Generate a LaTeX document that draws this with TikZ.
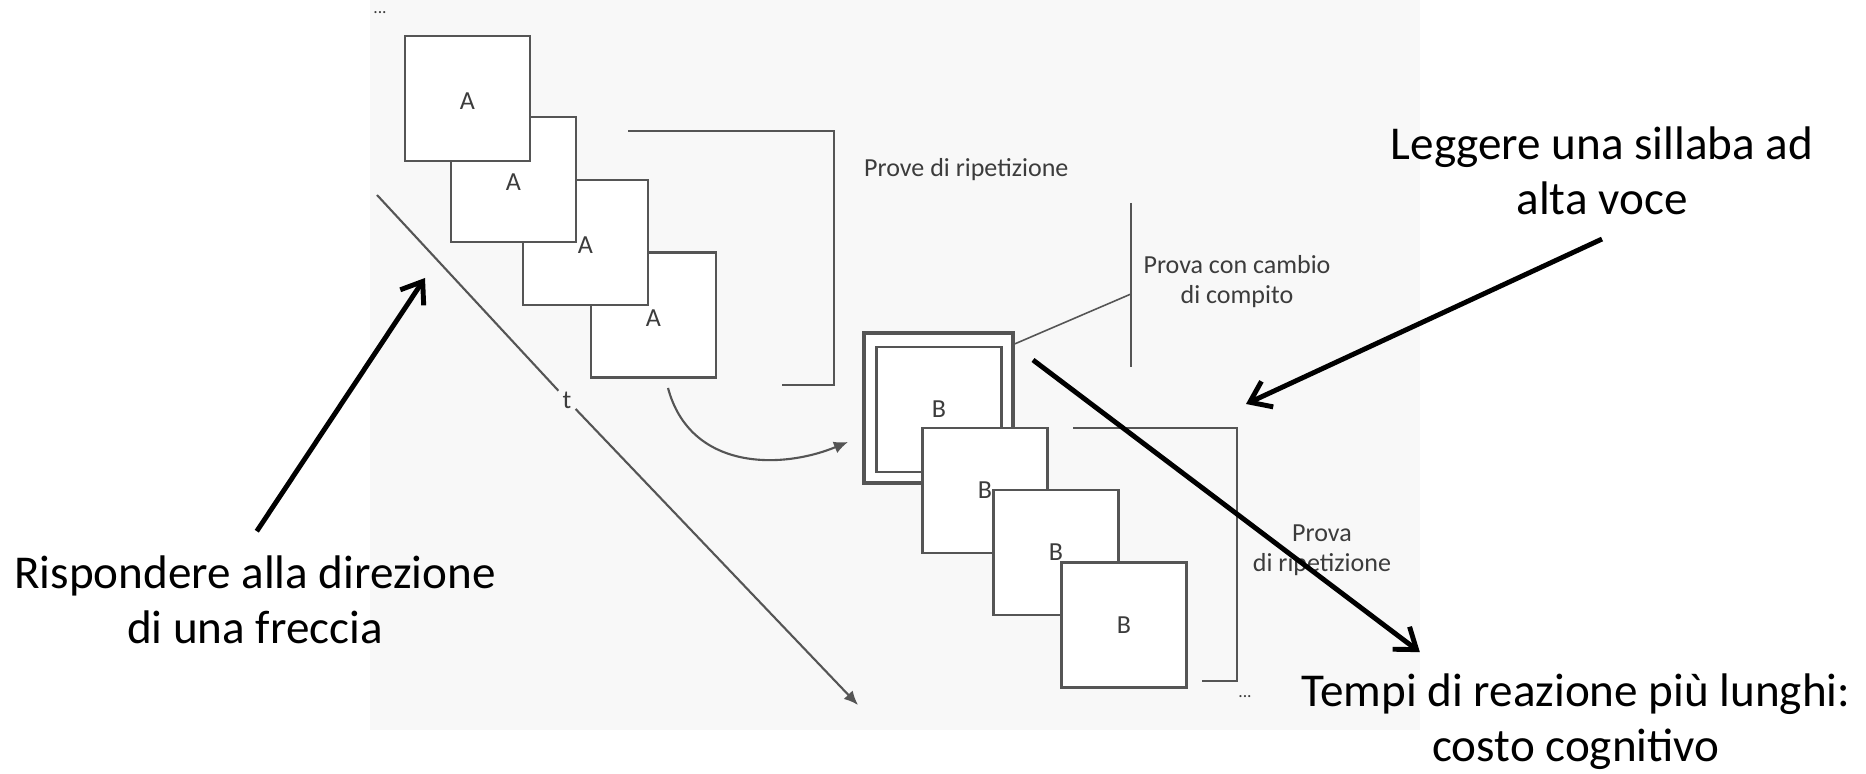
\documentclass[tikz,border=0pt]{standalone}
\usepackage{fontspec}
\setmainfont{Carlito}
\usetikzlibrary{arrows.meta}
\definecolor{scangray}{RGB}{85,85,85}
\definecolor{printgray}{RGB}{60,60,60}
\definecolor{scanpaper}{RGB}{248,248,248}

\tikzset{
  card/.style={draw=scangray, line width=0.6pt, fill=white,
    minimum width=1.25cm, minimum height=1.25cm, inner sep=0pt,
    font=\fontsize{7.4}{8.5}\selectfont, text=printgray},
  printlabel/.style={font=\fontsize{7.4}{8.5}\selectfont, text=printgray,
    align=center, inner sep=1pt},
  printline/.style={draw=scangray, line width=0.6pt},
  note/.style={align=center, inner sep=2pt, font=\fontsize{13.4}{15.7}\selectfont},
  notearrow/.style={line width=1.4pt, -{Straight Barb[length=5.5pt,width=8pt]}},
}

\begin{document}
\begin{tikzpicture}[x=0.01cm,y=-0.01cm]
  \useasboundingbox (0,0) rectangle (1866,774);
  \fill[scanpaper] (370,0) rectangle (1420,730);

  % repetition block, first card in front
  \node[card, text height=6.5pt] (a4) at (653.5,315) {A};
  \node[card, text height=6.5pt] (a3) at (585.5,242.5) {A};
  \node[card, text height=6.5pt] (a2) at (513.5,179.5) {A};
  \node[card, text height=6.5pt] (a1) at (467.5,98.5) {A};
  \node[printlabel, font=\fontsize{5}{6}\selectfont] (dotsTop) at (380,13) {...};

  % time axis
  \coordinate (tStart) at (377,195);
  \coordinate (tEnd) at (858,705);
  \node[printlabel] (tLab) at (567,400) {t};
  \draw[printline] (tStart) -- (tLab);
  \draw[printline, -{Latex[length=4pt,width=3.5pt]}] (tLab) -- (tEnd);

  \draw[printline] (628,131) -| (834,385) -- (782,385);
  \node[printlabel, anchor=west] (repA) at (860,170) {Prove di ripetizione};

  % switch
  \coordinate (swOut) at (668,388);
  \coordinate (swIn) at (848,442);
  \draw[printline, -{Latex[length=4pt,width=3.5pt]}] (swOut) .. controls (690,470) and (780,470) .. (swIn);

  \node[card, minimum width=1.49cm, minimum height=1.5cm, line width=1.1pt] (b1out) at (938.5,408) {};
  \node[card] (b1) at (939,409.5) {B};
  \node[card] (b2) at (985,490.5) {B};
  \node[card] (b3) at (1056,552.5) {B};
  \node[card] (b4) at (1124,625) {B};

  \coordinate (swTop) at (1131,203);
  \coordinate (swMid) at (1131,294);
  \coordinate (swBot) at (1131,367);
  \draw[printline] (swTop) -- (swBot);
  \draw[printline, line width=0.45pt] (b1out.40) -- (swMid);
  \node[printlabel] (switchLab) at (1237,282) {Prova con cambio\\di compito};

  \draw[printline] (1073,428) -| (1237,681) -- (1202,681);
  \node[printlabel] (repB) at (1322,550) {Prova\\di ripetizione};
  \node[printlabel, font=\fontsize{5}{6}\selectfont] (dotsBot) at (1245,697) {...};

  % notes
  \node[note] (legg) at (1602,171) {Leggere una sillaba ad\\alta voce};
  \node[note] (risp) at (255,600) {Rispondere alla direzione\\di una freccia};
  \node[note] (tempi) at (1576,722) {Tempi di reazione più lunghi:\\costo cognitivo};

  \coordinate (rispAim) at (425,278);
  \coordinate (leggAim) at (1246,404);
  \coordinate (tempiFrom) at (1033,360);
  \draw[notearrow] ([xshift=0.5pt,yshift=4.8pt]risp.north) -- (rispAim);
  \draw[notearrow] ([yshift=-4.6pt]legg.south) -- (leggAim);
  \draw[notearrow] (tempiFrom) -- ([xshift=-44.4pt,yshift=4pt]tempi.north);
\end{tikzpicture}
\end{document}
